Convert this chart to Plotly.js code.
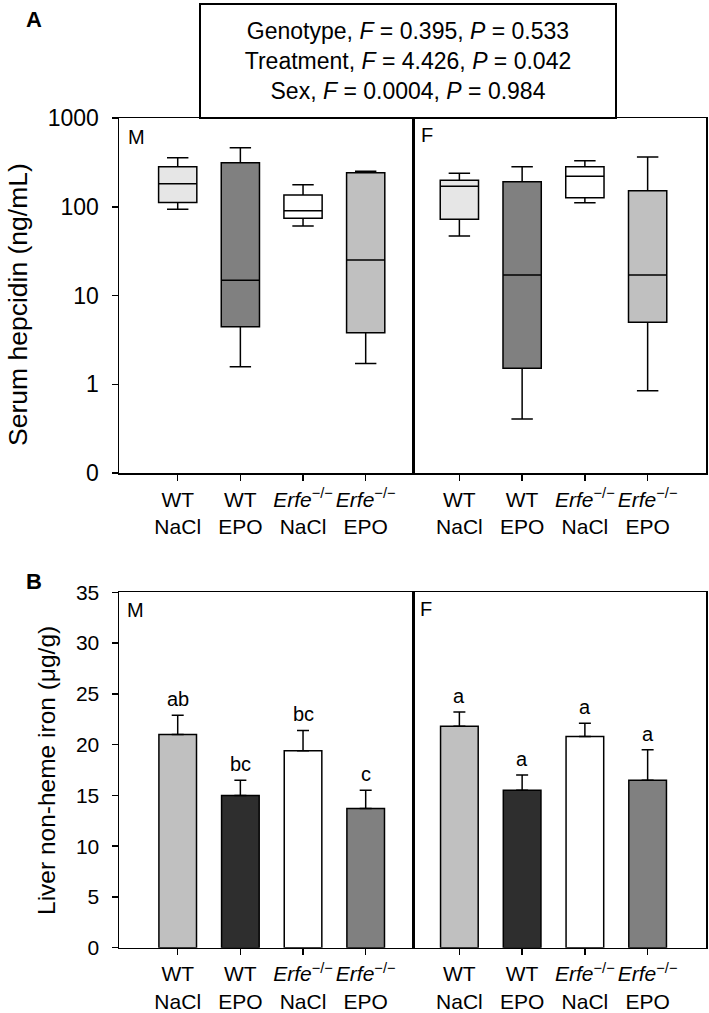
<!DOCTYPE html>
<html>
<head>
<meta charset="utf-8">
<script src="https://cdn.plot.ly/plotly-3.0.1.min.js"></script>
<style>html,body{margin:0;padding:0;background:#fff;}#chart{width:709px;height:1013px;}</style>
</head>
<body>
<div id="chart"></div>
<script>
// ---- data ----
const groupLabels = ['WT<br>NaCl', 'WT<br>EPO', '<i>Erfe</i><sup>−/−</sup><br>NaCl', '<i>Erfe</i><sup>−/−</sup><br>EPO'];
const sexLabels = ['M', 'F'];

// Panel A: serum hepcidin (ng/mL), box stats
const hepM_low  = [93.6, 1.57, 60.5, 1.71];
const hepM_q1   = [112, 4.44, 74, 3.80];
const hepM_med  = [182, 14.9, 90.2, 25.1];
const hepM_q3   = [282, 313, 136, 241];
const hepM_high = [357, 462, 177, 252];

const hepF_low  = [46.8, 0.405, 111, 0.843];
const hepF_q1   = [72.1, 1.51, 126, 5.01];
const hepF_med  = [170, 17.0, 220, 17.0];
const hepF_q3   = [199, 191, 282, 151];
const hepF_high = [238, 282, 330, 363];

const hepTickVals = [0.1, 1, 10, 100, 1000];
const hepTickText = ['0', '1', '10', '100', '1000'];

// Panel B: liver non-heme iron (µg/g), mean + SEM
const ironM = [21.0, 15.0, 19.4, 13.7];
const ironM_err = [1.9, 1.5, 2.0, 1.8];
const ironF = [21.8, 15.5, 20.8, 16.5];
const ironF_err = [1.4, 1.5, 1.3, 3.0];
const lettersM = ['ab', 'bc', 'bc', 'c'];
const lettersF = ['a', 'a', 'a', 'a'];

// ANOVA stats
const statNames = ['Genotype', 'Treatment', 'Sex'];
const statF = ['0.395', '4.426', '0.0004'];
const statP = ['0.533', '0.042', '0.984'];

// ---- styles ----
const boxColors = ['#e6e6e6', '#808080', '#ffffff', '#c0c0c0'];
const barColors = ['#c0c0c0', '#2e2e2e', '#ffffff', '#808080'];
const FONT = 'Liberation Sans, Arial, Helvetica, sans-serif';
const W = 709, H = 1013;

const traces = [];
function addBoxes(low, q1, med, q3, high, xa, ya) {
  for (let i = 0; i < groupLabels.length; i++) {
    traces.push({
      type: 'box', xaxis: xa, yaxis: ya,
      x: [groupLabels[i]], q1: [q1[i]], median: [med[i]], q3: [q3[i]],
      lowerfence: [low[i]], upperfence: [high[i]],
      fillcolor: boxColors[i], line: {color: '#000', width: 1.5},
      width: 0.61, whiskerwidth: 0.56, boxpoints: false, hoverinfo: 'skip'
    });
  }
}
addBoxes(hepM_low, hepM_q1, hepM_med, hepM_q3, hepM_high, 'x', 'y');
addBoxes(hepF_low, hepF_q1, hepF_med, hepF_q3, hepF_high, 'x2', 'y2');

function addBars(vals, errs, xa, ya) {
  traces.push({
    type: 'bar', xaxis: xa, yaxis: ya,
    x: groupLabels, y: vals, width: 0.6,
    marker: {color: barColors, line: {color: '#000', width: 1.5}},
    error_y: {type: 'data', symmetric: false, array: errs, arrayminus: errs.map(() => 0),
              color: '#000', thickness: 1.5, width: 6},
    hoverinfo: 'skip'
  });
}
addBars(ironM, ironM_err, 'x3', 'y3');
addBars(ironF, ironF_err, 'x4', 'y4');

// ---- layout ----
const px = v => v / W;
const py = v => 1 - v / H;
const domM = [px(119), px(413)];
const domF = [px(413), px(706)];
const domA = [py(473), py(118)];
const domB = [py(947.7), py(592.3)];

const xBase = {
  type: 'category', categoryorder: 'array', categoryarray: groupLabels,
  showline: true, linecolor: '#000', linewidth: 1.5, mirror: true,
  ticks: 'outside', ticklen: 6, tickwidth: 1.5, tickcolor: '#000',
  showgrid: false, zeroline: false, ticklabelstandoff: 1,
  tickfont: {family: FONT, size: 21, color: '#000'}
};
const rangeM = [-0.937, 3.755];
const rangeF = [-0.739, 3.930];

const yA = {
  type: 'log', range: [-1, 3], tickvals: hepTickVals, ticktext: hepTickText,
  showline: true, linecolor: '#000', linewidth: 1.5, mirror: true,
  ticks: 'outside', ticklen: 6, tickwidth: 1.5, tickcolor: '#000',
  showgrid: false, zeroline: false, ticklabelstandoff: 8,
  tickfont: {family: FONT, size: 23, color: '#000'}
};
const yB = {
  range: [0, 35], tickvals: [0, 5, 10, 15, 20, 25, 30, 35],
  showline: true, linecolor: '#000', linewidth: 1.5, mirror: true,
  ticks: 'outside', ticklen: 6, tickwidth: 1.5, tickcolor: '#000',
  showgrid: false, zeroline: false, ticklabelstandoff: 8,
  tickfont: {family: FONT, size: 21, color: '#000'}
};
const yHidden = (base) => Object.assign({}, base, {ticks: '', showticklabels: false});

const annotations = [];
// panel letters
annotations.push({xref: 'paper', yref: 'paper', x: px(24), y: py(20), xanchor: 'left', yanchor: 'middle',
  text: '<b>A</b>', showarrow: false, font: {family: FONT, size: 22, color: '#000'}});
annotations.push({xref: 'paper', yref: 'paper', x: px(24), y: py(581), xanchor: 'left', yanchor: 'middle',
  text: '<b>B</b>', showarrow: false, font: {family: FONT, size: 22, color: '#000'}});
// sex labels
const sexPos = [[126, 137], [419, 135], [125, 610], [418, 609]];
sexPos.forEach((p, k) => {
  annotations.push({xref: 'paper', yref: 'paper', x: px(p[0]), y: py(p[1]), xanchor: 'left', yanchor: 'middle',
    text: sexLabels[k % 2], showarrow: false, font: {family: FONT, size: 20, color: '#000'}});
});
// y titles
annotations.push({xref: 'paper', yref: 'paper', x: px(18), y: py(305), xanchor: 'center', yanchor: 'middle',
  text: 'Serum hepcidin (ng/mL)', textangle: -90, showarrow: false, font: {family: FONT, size: 26.5, color: '#000'}});
annotations.push({xref: 'paper', yref: 'paper', x: px(46), y: py(771), xanchor: 'center', yanchor: 'middle',
  text: 'Liver non-heme iron (μg/g)', textangle: -90, showarrow: false, font: {family: FONT, size: 24.5, color: '#000'}});
// stats box
const statText = statNames.map((n, i) => n + ', <i>F</i> = ' + statF[i] + ', <i>P</i> = ' + statP[i]).join('<br>');
annotations.push({xref: 'paper', yref: 'paper', x: px(408), y: py(61), xanchor: 'center', yanchor: 'middle',
  text: statText, showarrow: false, align: 'center', width: 412, height: 110,
  bgcolor: '#fff', bordercolor: '#000', borderwidth: 2, borderpad: 1,
  font: {family: FONT, size: 23, color: '#000'}});
// significance letters
function addLetters(vals, errs, letters, xa, ya) {
  letters.forEach((t, i) => {
    annotations.push({xref: xa, yref: ya, x: i, y: vals[i] + errs[i], xanchor: 'center', yanchor: 'bottom',
      yshift: 3, text: t, showarrow: false, font: {family: FONT, size: 20, color: '#000'}});
  });
}
addLetters(ironM, ironM_err, lettersM, 'x3', 'y3');
addLetters(ironF, ironF_err, lettersF, 'x4', 'y4');

const layout = {
  width: W, height: H, margin: {l: 0, r: 0, t: 0, b: 0},
  paper_bgcolor: '#fff', plot_bgcolor: '#fff', showlegend: false,
  boxmode: 'overlay', barmode: 'overlay',
  font: {family: FONT, color: '#000'},
  xaxis:  Object.assign({}, xBase, {domain: domM, range: rangeM, anchor: 'y'}),
  xaxis2: Object.assign({}, xBase, {domain: domF, range: rangeF, anchor: 'y2'}),
  xaxis3: Object.assign({}, xBase, {domain: domM, range: rangeM, anchor: 'y3'}),
  xaxis4: Object.assign({}, xBase, {domain: domF, range: rangeF, anchor: 'y4'}),
  yaxis:  Object.assign({}, yA, {domain: domA, anchor: 'x'}),
  yaxis2: Object.assign(yHidden(yA), {domain: domA, anchor: 'x2'}),
  yaxis3: Object.assign({}, yB, {domain: domB, anchor: 'x3'}),
  yaxis4: Object.assign(yHidden(yB), {domain: domB, anchor: 'x4'}),
  annotations: annotations
};

Plotly.newPlot('chart', traces, layout, {staticPlot: true, displayModeBar: false});
</script>
</body>
</html>
